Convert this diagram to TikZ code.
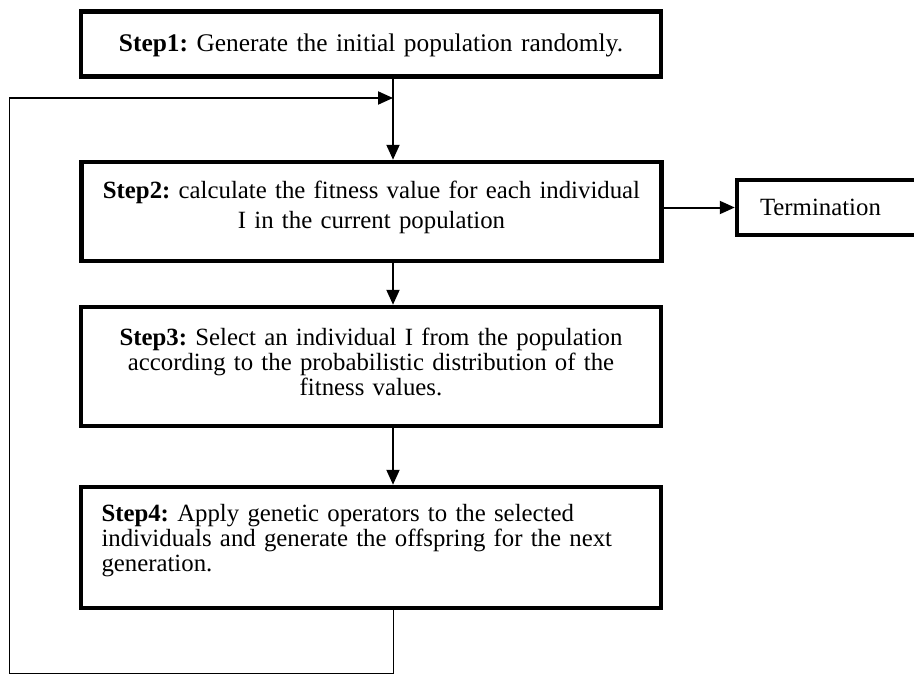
\documentclass[tikz,border=0pt]{standalone}
\usepackage{fontspec}
\setmainfont{Liberation Serif}
\usetikzlibrary{arrows.meta,positioning}
\frenchspacing

\begin{document}
\begin{tikzpicture}[
    x=0.5pt,y=-0.5pt,
    font=\fontsize{12.4}{12.5}\selectfont,
    box/.style={draw,line width=2.25pt,inner sep=0pt},
    stepbox/.style={box,minimum width=290pt},
    steptext/.style={text width=269.5pt,inner sep=0pt,align=center},
    flow/.style={-{Triangle[length=7.5pt,width=6.5pt]},line width=1pt},
    loopline/.style={line width=0.5pt},
]
    \path[use as bounding box] (0,0) rectangle (914,675);

    % boxes
    \node[stepbox,minimum height=32.5pt] (s1) at (371,44) {};
    \node[stepbox,minimum height=49.5pt] (s2) at (371.5,211.5) {};
    \node[stepbox,minimum height=59.5pt] (s3) at (371,366.5) {};
    \node[stepbox,minimum height=60.5pt] (s4) at (371,547.5) {};
    \node[box,minimum width=91.5pt,minimum height=27.5pt,
        text width=68.5pt,inner xsep=11.5pt,align=left] (term) at (828.5,207.5) {Termination};

    % texts
    \node[steptext,font=\fontsize{12.7}{13}\selectfont] (t1) at (371,45)
        {\textbf{Step1:} Generate the initial population randomly.};
    \node[steptext,font=\fontsize{12.4}{15}\selectfont] (t2) at (371.5,207.5)
        {\textbf{Step2:} calculate the fitness value for each individual\\
        I in the current population};
    \node[steptext] (t3) at (371,361.5)
        {\textbf{Step3:} Select an individual I from the population\\
        according to the probabilistic distribution of the\\
        fitness values.};
    \node[steptext,align=left] (t4) at (371,540.5)
        {\textbf{Step4:} Apply genetic operators to the selected\\
        individuals and generate the offspring for the next\\
        generation.};

    % connectors
    \coordinate (mid) at (393,0);
    \coordinate (back) at (9,673);
    \coordinate (entry) at (393,98);
    \draw[flow] (s1.south -| mid) -- (s2.north -| mid);
    \draw[flow] (s2.south -| mid) -- (s3.north -| mid);
    \draw[flow] (s3.south -| mid) -- (s4.north -| mid);
    \draw[flow] (s2.east |- term.west) -- (term.west);
    \draw[loopline] (s4.south -| mid) |- (back) -- (back |- entry);
    \draw[flow] (back |- entry) -- (entry);
\end{tikzpicture}
\end{document}
